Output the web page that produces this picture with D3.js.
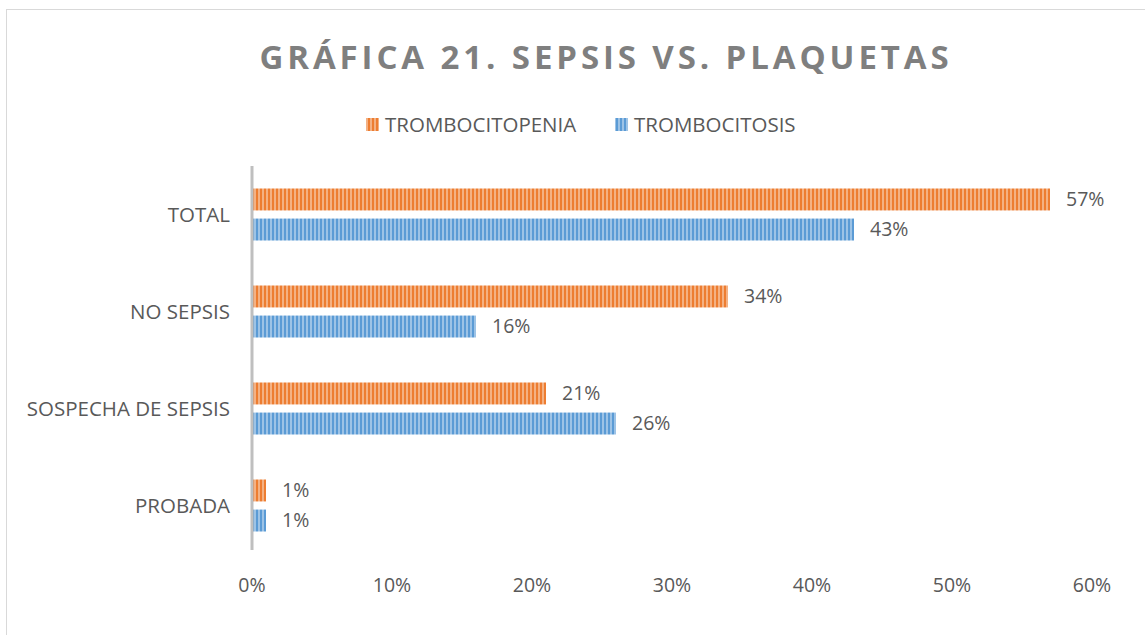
<!DOCTYPE html>
<html>
<head>
<meta charset="utf-8">
<script src="https://cdn.jsdelivr.net/npm/d3@7"></script>
<style>
  body { margin: 0; background: #fff; }
  text { font-family: "Open Sans", "Noto Sans", sans-serif; fill: #595959; }
</style>
</head>
<body>
<div id="chart"></div>
<script>
// data
var categories = ["TOTAL", "NO SEPSIS", "SOSPECHA DE SEPSIS", "PROBADA"];
var seriesNames = ["TROMBOCITOPENIA", "TROMBOCITOSIS"];
var trombocitopenia = [57, 34, 21, 1];
var trombocitosis = [43, 16, 26, 1];
var xTicks = [0, 10, 20, 30, 40, 50, 60];
var colors = ["#ED7D31", "#5B9BD5"];
var lightColors = ["#F4B183", "#9DC3E6"];

var W = 1145, H = 635;
var margin = {top: 166, left: 252, right: 53, bottom: 81};
var width = W - margin.left - margin.right,
    height = H - margin.top - margin.bottom;

var svg = d3.select("#chart").append("svg")
    .attr("width", W)
    .attr("height", H);

// stripe patterns
var defs = svg.append("defs");
colors.forEach(function(c, i) {
  var p = defs.append("pattern")
      .attr("id", "stripe" + i)
      .attr("patternUnits", "userSpaceOnUse")
      .attr("width", 4).attr("height", 4);
  p.append("rect").attr("width", 4).attr("height", 4).attr("fill", lightColors[i]);
  p.append("rect").attr("width", 2).attr("height", 4).attr("fill", c);
});

// chart border
svg.append("rect")
    .attr("x", 6.5).attr("y", 9.5)
    .attr("width", W).attr("height", H)
    .attr("fill", "none")
    .attr("stroke", "#D9D9D9");

svg.append("text")
    .attr("x", 606).attr("y", 69)
    .attr("text-anchor", "middle")
    .style("font-size", "33px")
    .style("font-weight", "bold")
    .style("letter-spacing", "3.9px")
    .style("fill", "#7F7F7F")
    .text("GRÁFICA 21. SEPSIS VS. PLAQUETAS");

// legend
var legendX = [366, 615];
seriesNames.forEach(function(name, i) {
  svg.append("rect")
      .attr("x", legendX[i]).attr("y", 118)
      .attr("width", 13).attr("height", 13)
      .attr("fill", "url(#stripe" + i + ")");
  svg.append("text")
      .attr("x", legendX[i] + 19).attr("y", 132)
      .style("font-size", "20.5px")
      .text(name);
});

var g = svg.append("g")
    .attr("transform", "translate(" + margin.left + "," + margin.top + ")");

var x = d3.scaleLinear().domain([0, 60]).range([0, width]);
var y = d3.scaleBand().domain(categories).range([0, height]);
var inner = d3.scaleBand().domain([0, 1]).range([y.bandwidth() / 2 - 26, y.bandwidth() / 2 + 26]).paddingInner(0.27);

var rows = categories.map(function(c, i) {
  return {cat: c, vals: [trombocitopenia[i], trombocitosis[i]]};
});

var grp = g.selectAll(".row")
    .data(rows)
  .enter().append("g")
    .attr("class", "row")
    .attr("transform", function(d) { return "translate(0," + y(d.cat) + ")"; });

var bar = grp.selectAll(".bar")
    .data(function(d) { return d.vals.map(function(v, i) { return {v: v, i: i}; }); })
  .enter();

bar.append("rect")
    .attr("x", 0)
    .attr("y", function(d) { return inner(d.i); })
    .attr("width", function(d) { return x(d.v); })
    .attr("height", inner.bandwidth())
    .attr("fill", function(d) { return "url(#stripe" + d.i + ")"; });

bar.append("text")
    .attr("x", function(d) { return x(d.v) + 16; })
    .attr("y", function(d) { return inner(d.i) + inner.bandwidth() / 2; })
    .attr("dy", "0.35em")
    .style("font-size", "19.5px")
    .text(function(d) { return d.v + "%"; });

// category labels
g.selectAll(".cat")
    .data(categories)
  .enter().append("text")
    .attr("x", -22)
    .attr("y", function(d) { return y(d) + y.bandwidth() / 2; })
    .attr("dy", "0.35em")
    .attr("text-anchor", "end")
    .style("font-size", "20.5px")
    .text(function(d) { return d; });

// axis line
g.append("line")
    .attr("x1", 0).attr("x2", 0)
    .attr("y1", 0).attr("y2", height - 4)
    .attr("stroke", "#BFBFBF")
    .attr("stroke-width", 3);

// x tick labels
g.selectAll(".tick")
    .data(xTicks)
  .enter().append("text")
    .attr("x", function(d) { return x(d); })
    .attr("y", height + 38)
    .attr("text-anchor", "middle")
    .style("font-size", "19.5px")
    .text(function(d) { return d + "%"; });
</script>
</body>
</html>
